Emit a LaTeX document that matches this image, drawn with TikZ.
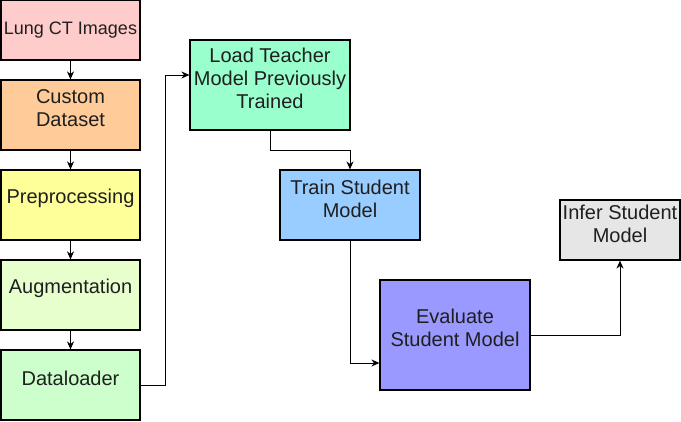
\documentclass[tikz,border=0pt]{standalone}
\usepackage{fontspec}
\setmainfont{Liberation Sans}
\usetikzlibrary{arrows.meta}

\definecolor{lungpink}{HTML}{FFCCCC}
\definecolor{dataorange}{HTML}{FFCC99}
\definecolor{prepyellow}{HTML}{FFFF99}
\definecolor{auggreen}{HTML}{E6FFCC}
\definecolor{loadgreen}{HTML}{CCFFCC}
\definecolor{teachmint}{HTML}{99FFCC}
\definecolor{trainblue}{HTML}{99CCFF}
\definecolor{evalpurple}{HTML}{9999FF}
\definecolor{infergray}{HTML}{E6E6E6}

\tikzset{
    stage/.style={draw=black, line width=1.2pt, inner sep=0pt},
    lbl/.style={align=center, inner sep=0pt, text=black!88, font=\fontsize{20}{23}\selectfont},
    conn/.style={line width=1pt, -{Stealth[length=8pt,width=7pt]}},
}

\begin{document}
\begin{tikzpicture}[x=1pt, y=-1pt]
    \useasboundingbox (0,0) rectangle (681,421);
    % data pipeline
    \node[stage, fill=lungpink, minimum width=139pt, minimum height=60pt] (lung) at (70.5,30) {};
    \node[lbl, font=\fontsize{18}{21}\selectfont] (lungtxt) at (lung.center) {Lung CT Images};
    \node[stage, fill=dataorange, minimum width=139pt, minimum height=70pt] (custom) at (70.5,115) {};
    \node[lbl] (customtxt) at ([yshift=7pt]custom.center) {Custom\\Dataset};
    \node[stage, fill=prepyellow, minimum width=139pt, minimum height=70pt] (prep) at (70.5,205) {};
    \node[lbl] (preptxt) at ([yshift=7pt]prep.center) {Preprocessing};
    \node[stage, fill=auggreen, minimum width=139pt, minimum height=70pt] (aug) at (70.5,295) {};
    \node[lbl] (augtxt) at ([yshift=7pt]aug.center) {Augmentation};
    \node[stage, fill=loadgreen, minimum width=139pt, minimum height=70pt] (loader) at (70.5,385) {};
    \node[lbl] (loadertxt) at ([yshift=7pt]loader.center) {Dataloader};
    % distillation
    \node[stage, fill=teachmint, minimum width=160pt, minimum height=90pt] (teacher) at (270,85) {};
    \node[lbl] (teachertxt) at ([yshift=7pt]teacher.center) {Load Teacher\\Model Previously\\Trained};
    \node[stage, fill=trainblue, minimum width=140pt, minimum height=70pt] (train) at (350,205) {};
    \node[lbl] (traintxt) at ([yshift=6.5pt]train.center) {Train Student\\Model};
    \node[stage, fill=evalpurple, minimum width=150pt, minimum height=110pt] (eval) at (455,335) {};
    \node[lbl] (evaltxt) at ([yshift=7pt]eval.center) {Evaluate\\Student Model};
    \node[stage, fill=infergray, minimum width=120pt, minimum height=60pt] (infer) at (620,230) {};
    \node[lbl] (infertxt) at ([yshift=6.5pt]infer.center) {Infer Student\\Model};

    \draw[conn] (lung) -- (custom);
    \draw[conn] (custom) -- (prep);
    \draw[conn] (prep) -- (aug);
    \draw[conn] (aug) -- (loader);
    \draw[conn] (loader.east) -- ++(25,0) |- ([yshift=10pt]teacher.west);
    \draw[conn] (teacher.south) -- ++(0,20) -| (train.north);
    \draw[conn] (train.south) |- ([yshift=-28pt]eval.west);
    \draw[conn] (eval.east) -| (infer.south);
\end{tikzpicture}
\end{document}
